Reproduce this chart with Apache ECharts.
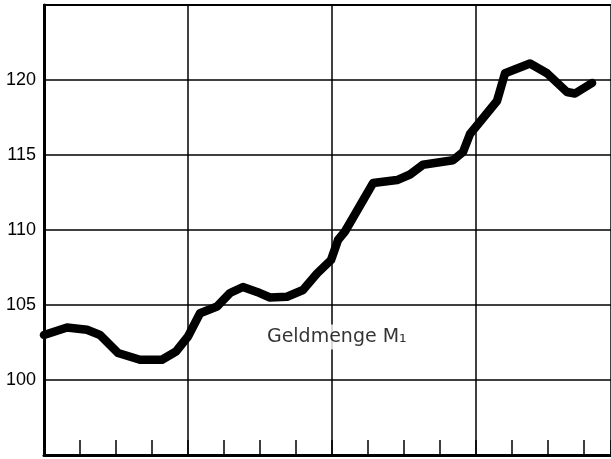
<!DOCTYPE html>
<html>
<head>
<meta charset="utf-8">
<script src="https://cdn.jsdelivr.net/npm/echarts@6/dist/echarts.min.js"></script>
<style>html,body{margin:0;padding:0;background:#fff;}#c{width:611px;height:459px;}</style>
</head>
<body>
<div id="c"></div>
<script>
// month index (0 = start of first year)
var months = [0, 1.92, 3.58, 4.67, 6.17, 8.0, 9.83, 11.0, 12.0, 13.0, 14.42, 15.5, 16.58, 17.75, 18.83, 20.25, 21.58, 22.75, 23.92, 24.5, 25.08, 27.42, 29.42, 30.5, 31.58, 34.08, 34.92, 35.5, 37.75, 38.42, 40.5, 41.92, 43.58, 44.25, 45.67];
var values = [103.0, 103.5, 103.35, 103.0, 101.8, 101.35, 101.35, 101.9, 102.9, 104.45, 104.9, 105.8, 106.2, 105.87, 105.5, 105.55, 106.0, 107.1, 108.0, 109.33, 109.9, 113.13, 113.33, 113.7, 114.35, 114.65, 115.2, 116.4, 118.6, 120.45, 121.1, 120.45, 119.2, 119.1, 119.8];
var yTickLabels = [100, 105, 110, 115, 120];
var seriesLabel = 'Geldmenge M\u2081';
var labelPos = [24.4, 102.87];

var data = months.map(function (m, i) { return [m, values[i]]; });

var chart = echarts.init(document.getElementById('c'), null, {renderer: 'canvas'});
chart.setOption({
  animation: false,
  backgroundColor: '#fff',
  grid: {left: 44, right: 0, top: 5, bottom: 4, containLabel: false},
  xAxis: [{
    type: 'value', min: 0, max: 47.25, interval: 3, position: 'bottom',
    axisLine: {show: true, onZero: false, lineStyle: {color: '#000', width: 3}},
    axisTick: {show: true, inside: true, length: 15, lineStyle: {color: '#000', width: 1.5}},
    axisLabel: {show: false},
    splitLine: {show: false}
  }, {
    type: 'value', min: 0, max: 47.25, interval: 12, position: 'top',
    axisLine: {show: true, onZero: false, lineStyle: {color: '#000', width: 2}},
    axisTick: {show: false},
    axisLabel: {show: false},
    splitLine: {show: true, lineStyle: {color: '#000', width: 1.5}}
  }],
  yAxis: {
    type: 'value', min: 95, max: 125, interval: 5,
    axisLine: {show: true, onZero: false, lineStyle: {color: '#000', width: 3}},
    axisTick: {show: false},
    axisLabel: {
      margin: 8, color: '#000', fontSize: 18, fontFamily: 'Liberation Sans, Arial, sans-serif',
      formatter: function (v) { return yTickLabels.indexOf(v) >= 0 ? String(v) : ''; }
    },
    splitLine: {show: true, lineStyle: {color: '#000', width: 1.5}}
  },
  series: [{
    type: 'line', xAxisIndex: 0, data: data, showSymbol: false, symbol: 'none',
    lineStyle: {color: '#000', width: 8.5, join: 'round', cap: 'round'},
    z: 3
  }, {
    type: 'scatter', xAxisIndex: 0, data: [labelPos], symbolSize: 1,
    itemStyle: {color: 'rgba(0,0,0,0)'},
    label: {
      show: true, position: 'inside', formatter: seriesLabel,
      color: '#000', fontSize: 19, fontFamily: 'DejaVu Sans, sans-serif',
      backgroundColor: '#fff', padding: [3, 4, 3, 4]
    },
    z: 4
  }]
});
</script>
</body>
</html>
